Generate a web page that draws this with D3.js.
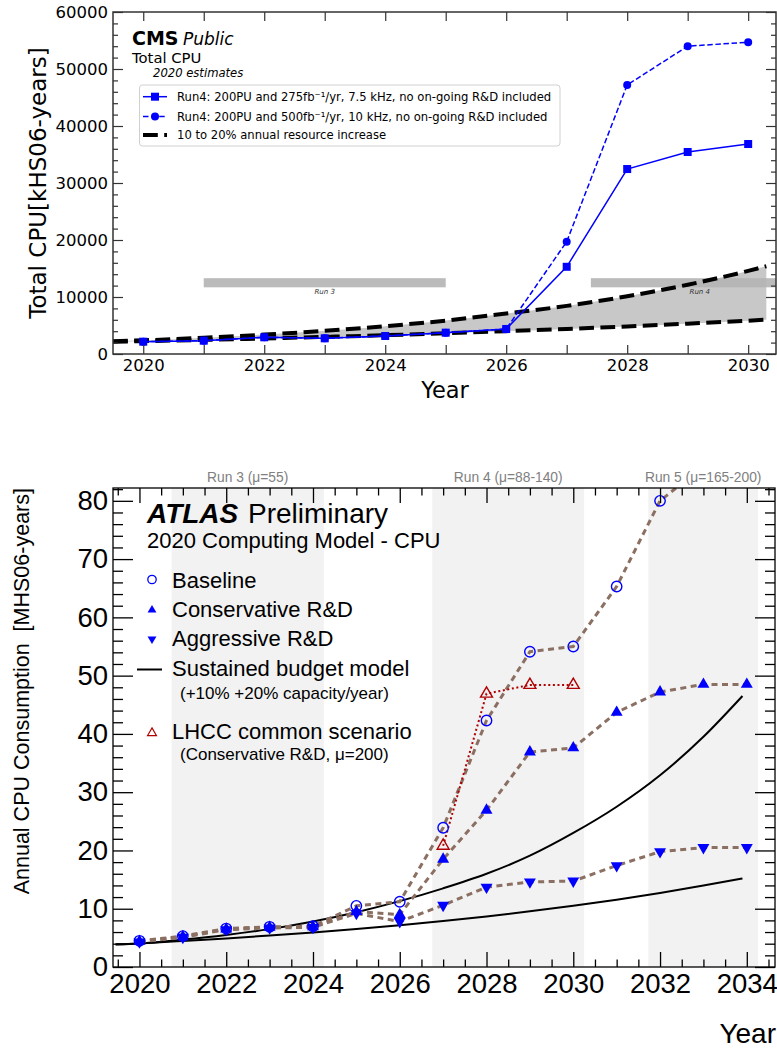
<!DOCTYPE html>
<html><head><meta charset="utf-8">
<script src="https://cdn.jsdelivr.net/npm/d3@7"></script>
<style>body{margin:0;background:#fff} svg{display:block}</style>
</head><body><svg id="c" width="777" height="1051"></svg>
<script>
// ---------- TOP CHART DATA (CMS) ----------
const cmsYears = [2020,2021,2022,2023,2024,2025,2026,2027,2028,2029,2030];
const cms275 = [2160,2340,2930,2750,3160,3740,4390,15300,32450,35440,36840];
const cms500 = [2160,2340,2930,2750,3160,3740,4390,19700,47200,54000,54700];
const cmsBandYears = [2019.5,2020,2021,2022,2023,2024,2025,2026,2027,2028,2029,2030,2030.3];
const cmsLow  = [2150,2250,2480,2730,3000,3300,3630,4000,4400,4840,5320,5850,6020];
const cmsHigh = [2250,2400,2850,3400,4070,4880,5860,7100,8440,10130,12150,14580,15400];
const cmsRunStart = [2021, 2027.4];
const cmsRunEnd = [2025, 2031];
const cmsRunLabels = ["Run 3", "Run 4"];
const cmsYTicks = [0,10000,20000,30000,40000,50000,60000];
const cmsLegend = ["Run4: 200PU and 275fb\u207B\u00B9/yr, 7.5 kHz, no on-going R&D included",
                   "Run4: 200PU and 500fb\u207B\u00B9/yr, 10 kHz, no on-going R&D included",
                   "10 to 20% annual resource increase"];

// ---------- BOTTOM CHART DATA (ATLAS) ----------
const atlasYears = [2020,2021,2022,2023,2024,2025,2026,2027,2028,2029,2030,2031,2032,2033,2034];
const baselineYears = [2020,2021,2022,2023,2024,2025,2026,2027,2028,2029,2030,2031,2032,2033];
const baseline = [4.5,5.3,6.6,6.9,7.0,10.5,11.2,23.9,42.3,54.1,55.0,65.3,80.0,86.0];
const conservative = [4.4,5.2,6.5,6.8,6.9,9.5,9.0,18.5,26.9,36.9,37.6,43.7,47.2,48.5,48.5];
const aggressive = [4.3,5.1,6.4,6.7,6.8,9.2,7.8,10.6,13.7,14.6,14.75,17.4,19.8,20.5,20.5];
const lhccYears = [2027,2028,2029,2030];
const lhcc = [20.8,46.9,48.4,48.4];
const budgetYears = [2019.45,2020,2021,2022,2023,2024,2025,2026,2027,2028,2029,2030,2031,2032,2033,2033.9];
const budgetLow  = [3.85,4.05,4.46,4.9,5.39,5.93,6.52,7.17,7.89,8.68,9.55,10.5,11.55,12.7,13.97,15.2];
const budgetHigh = [3.9,4.05,4.7,5.5,6.5,7.8,9.4,11.3,13.5,16.0,19.1,23.0,27.5,32.9,39.5,46.5];
const runStart = [2020.74, 2026.75, 2031.73];
const runEnd = [2024.25, 2030.25, 2034.26];
const runLabels = ["Run 3 (\u03BC=55)", "Run 4 (\u03BC=88-140)", "Run 5 (\u03BC=165-200)"];
const atlasYTicks = [0,10,20,30,40,50,60,70,80];
const atlasXTicks = [2020,2022,2024,2026,2028,2030,2032,2034];

const svg = d3.select("#c");
svg.append("rect").attr("width",777).attr("height",1051).attr("fill","#fff");
const defs = svg.append("defs");

// ================= TOP CHART =================
(function(){
  const F = "'DejaVu Sans', sans-serif";
  const L=113, R=776, T=12, B=354;
  const x = d3.scaleLinear().domain([2019.5, 2030.46]).range([L, R]);
  const y = d3.scaleLinear().domain([0, 60000]).range([B, T]);
  const g = svg.append("g");
  defs.append("clipPath").attr("id","clipT").append("rect").attr("x",L).attr("y",T).attr("width",R-L).attr("height",B-T);
  const pg = g.append("g").attr("clip-path","url(#clipT)");

  const bandData = cmsBandYears.map((yr,i)=>({yr, lo:cmsLow[i], hi:cmsHigh[i]}));
  pg.append("path").datum(bandData)
    .attr("d", d3.area().x(d=>x(d.yr)).y0(d=>y(d.lo)).y1(d=>y(d.hi)).curve(d3.curveMonotoneX))
    .attr("fill","#c8c8c8");
  cmsRunStart.forEach((s,i)=>{
    pg.append("rect").attr("x",x(s)).attr("y",y(13300)).attr("width",x(cmsRunEnd[i])-x(s))
      .attr("height",y(11700)-y(13300)).attr("fill","#b4b4b4").attr("opacity",0.9);
    pg.append("text").attr("x",x((s+cmsRunEnd[i])/2)).attr("y",y(10500))
      .attr("text-anchor","middle").attr("font-family",F).attr("font-style","italic")
      .attr("font-size",7).attr("fill","#333").text(cmsRunLabels[i]);
  });
  [cmsLow, cmsHigh].forEach(arr=>{
    pg.append("path").datum(cmsBandYears.map((yr,i)=>[yr,arr[i]]))
      .attr("d", d3.line().x(d=>x(d[0])).y(d=>y(d[1])).curve(d3.curveMonotoneX))
      .attr("fill","none").attr("stroke","#000").attr("stroke-width",4)
      .attr("stroke-dasharray","14.8,6.4");
  });
  const line = d3.line().x(d=>x(d[0])).y(d=>y(d[1]));
  pg.append("path").datum(cmsYears.map((yr,i)=>[yr,cms500[i]])).attr("d",line)
    .attr("fill","none").attr("stroke","#0000ff").attr("stroke-width",1.5).attr("stroke-dasharray","5.5,2.6");
  pg.selectAll(".c5").data(cmsYears.map((yr,i)=>[yr,cms500[i]])).enter().append("circle")
    .attr("cx",d=>x(d[0])).attr("cy",d=>y(d[1])).attr("r",4).attr("fill","#0000ff");
  pg.append("path").datum(cmsYears.map((yr,i)=>[yr,cms275[i]])).attr("d",line)
    .attr("fill","none").attr("stroke","#0000ff").attr("stroke-width",1.5);
  pg.selectAll(".s2").data(cmsYears.map((yr,i)=>[yr,cms275[i]])).enter().append("rect")
    .attr("x",d=>x(d[0])-4).attr("y",d=>y(d[1])-4).attr("width",8).attr("height",8).attr("fill","#0000ff");

  const axB = g.append("g").attr("transform",`translate(0,${B})`)
    .call(d3.axisBottom(x).tickValues(cmsYears).tickSizeInner(-9).tickSizeOuter(0).tickPadding(5)
      .tickFormat(d=> d%2===0 ? d : ""));
  const axT = g.append("g").attr("transform",`translate(0,${T})`)
    .call(d3.axisTop(x).tickValues(cmsYears).tickSizeInner(-9).tickSizeOuter(0).tickFormat(""));
  const axL = g.append("g").attr("transform",`translate(${L},0)`)
    .call(d3.axisLeft(y).tickValues(cmsYTicks).tickSizeInner(-10).tickSizeOuter(0).tickPadding(5).tickFormat(d=>d));
  const minorY = d3.range(0,60001,2000).filter(v=>v%10000!==0);
  const axLm = g.append("g").attr("transform",`translate(${L},0)`)
    .call(d3.axisLeft(y).tickValues(minorY).tickSizeInner(-5).tickSizeOuter(0).tickFormat(""));
  const axR = g.append("g").attr("transform",`translate(${R},0)`)
    .call(d3.axisRight(y).tickValues(cmsYTicks).tickSizeInner(-10).tickSizeOuter(0).tickFormat(""));
  const axRm = g.append("g").attr("transform",`translate(${R},0)`)
    .call(d3.axisRight(y).tickValues(minorY).tickSizeInner(-5).tickSizeOuter(0).tickFormat(""));
  [axB,axT,axL,axLm,axR,axRm].forEach(a=>{
    a.select(".domain").remove();
    a.selectAll("line").attr("stroke","#333").attr("stroke-width",1.2);
    a.selectAll("text").attr("font-family",F).attr("font-size",16.5).attr("fill","#000");
  });
  g.append("rect").attr("x",L).attr("y",T).attr("width",R-L).attr("height",B-T)
    .attr("fill","none").attr("stroke","#333").attr("stroke-width",1.5);

  g.append("text").attr("transform","translate(46,183) rotate(-90)").attr("text-anchor","middle")
    .attr("font-family",F).attr("font-size",23).text("Total CPU[kHS06-years]");
  g.append("text").attr("x",445).attr("y",398).attr("text-anchor","middle")
    .attr("font-family",F).attr("font-size",22.5).text("Year");

  g.append("text").attr("x",132).attr("y",45).attr("font-family",F).attr("font-weight","bold")
    .attr("font-size",19).text("CMS");
  g.append("text").attr("x",183).attr("y",45).attr("font-family",F).attr("font-style","italic")
    .attr("font-size",17).text("Public");
  g.append("text").attr("x",132).attr("y",63).attr("font-family",F).attr("font-size",14.8).text("Total CPU");
  g.append("text").attr("x",153).attr("y",77).attr("font-family",F).attr("font-style","italic")
    .attr("font-size",11.6).text("2020 estimates");

  g.append("rect").attr("x",139.5).attr("y",85).attr("width",420.5).attr("height",61).attr("rx",3)
    .attr("fill","#fff").attr("fill-opacity",0.85).attr("stroke","#d0d0d0").attr("stroke-width",1);
  const ly = [96.7, 116.5, 135];
  g.append("line").attr("x1",143).attr("x2",167).attr("y1",ly[0]).attr("y2",ly[0]).attr("stroke","#0000ff").attr("stroke-width",1.5);
  g.append("rect").attr("x",151).attr("y",ly[0]-4).attr("width",8).attr("height",8).attr("fill","#0000ff");
  g.append("line").attr("x1",143).attr("x2",167).attr("y1",ly[1]).attr("y2",ly[1]).attr("stroke","#0000ff").attr("stroke-width",1.5).attr("stroke-dasharray","5.5,2.6");
  g.append("circle").attr("cx",155).attr("cy",ly[1]).attr("r",4).attr("fill","#0000ff");
  g.append("line").attr("x1",143).attr("x2",167).attr("y1",ly[2]).attr("y2",ly[2]).attr("stroke","#000").attr("stroke-width",4).attr("stroke-dasharray","14.8,6.4");
  cmsLegend.forEach((t,i)=>{
    g.append("text").attr("x",177).attr("y",ly[i]+4).attr("font-family",F).attr("font-size",11.6).text(t);
  });
})();

// ================= BOTTOM CHART =================
(function(){
  const F = "'Liberation Sans', Arial, sans-serif";
  const L=113, R=775, T=488, B=967;
  const x = d3.scaleLinear().domain([2019.39, 2034.65]).range([L, R]);
  const y = d3.scaleLinear().domain([0, 82.2]).range([B, T]);
  const g = svg.append("g");
  defs.append("clipPath").attr("id","clipB").append("rect")
    .attr("x",L).attr("y",T).attr("width",R-L).attr("height",B-T);
  const pg = g.append("g").attr("clip-path","url(#clipB)");

  runStart.forEach((s,i)=>{
    pg.append("rect").attr("x",x(s)).attr("y",T).attr("width",x(runEnd[i])-x(s)).attr("height",B-T)
      .attr("fill","#f2f2f2");
    g.append("text").attr("x",(x(s)+x(runEnd[i]))/2).attr("y",482).attr("text-anchor","middle")
      .attr("font-family",F).attr("font-size",13.8).attr("fill","#808080").text(runLabels[i]);
  });

  const curve = d3.line().x(d=>x(d[0])).y(d=>y(d[1])).curve(d3.curveMonotoneX);
  [budgetLow, budgetHigh].forEach(arr=>{
    pg.append("path").datum(budgetYears.map((yr,i)=>[yr,arr[i]])).attr("d",curve)
      .attr("fill","none").attr("stroke","#000").attr("stroke-width",2);
  });

  const line = d3.line().x(d=>x(d[0])).y(d=>y(d[1]));
  const brown = "#8b6f62";
  const sBase = baselineYears.map((yr,i)=>[yr,baseline[i]]);
  const sCons = atlasYears.map((yr,i)=>[yr,conservative[i]]);
  const sAggr = atlasYears.map((yr,i)=>[yr,aggressive[i]]);
  const sLhcc = lhccYears.map((yr,i)=>[yr,lhcc[i]]);
  [sBase,sCons,sAggr].forEach(s=>{
    pg.append("path").datum(s).attr("d",line).attr("fill","none").attr("stroke",brown)
      .attr("stroke-width",3).attr("stroke-dasharray","6,4.5");
  });
  pg.append("path").datum(sLhcc).attr("d",line).attr("fill","none").attr("stroke","#b00000")
    .attr("stroke-width",2).attr("stroke-dasharray","2,2.6");

  const tri = d3.symbol().type(d3.symbolTriangle).size(62);
  pg.selectAll(".up").data(sCons).enter().append("path").attr("d",tri)
    .attr("transform",d=>`translate(${x(d[0])},${y(d[1])})`).attr("fill","#0000ff");
  pg.selectAll(".dn").data(sAggr).enter().append("path").attr("d",tri)
    .attr("transform",d=>`translate(${x(d[0])},${y(d[1])}) rotate(180)`).attr("fill","#0000ff");
  pg.selectAll(".lh").data(sLhcc).enter().append("path").attr("d",tri)
    .attr("transform",d=>`translate(${x(d[0])},${y(d[1])})`).attr("fill","none")
    .attr("stroke","#b00000").attr("stroke-width",1.4);
  pg.selectAll(".ci").data(sBase).enter().append("circle")
    .attr("cx",d=>x(d[0])).attr("cy",d=>y(d[1])).attr("r",5.2).attr("fill","none")
    .attr("stroke","#0000ff").attr("stroke-width",1.4);

  const majX = atlasXTicks;
  const minX = d3.range(2019.5, 2034.6, 0.5).filter(v=>!majX.includes(v));
  const majY = atlasYTicks;
  const minY = d3.range(2, 82.1, 2).filter(v=>v%10!==0);
  const axes = [
    g.append("g").attr("transform",`translate(0,${B})`).call(d3.axisBottom(x).tickValues(majX).tickSizeInner(-15).tickSizeOuter(0).tickPadding(6).tickFormat(d=>d)),
    g.append("g").attr("transform",`translate(0,${B})`).call(d3.axisBottom(x).tickValues(minX).tickSizeInner(-7.5).tickSizeOuter(0).tickFormat("")),
    g.append("g").attr("transform",`translate(0,${T})`).call(d3.axisTop(x).tickValues(majX).tickSizeInner(-15).tickSizeOuter(0).tickFormat("")),
    g.append("g").attr("transform",`translate(0,${T})`).call(d3.axisTop(x).tickValues(minX).tickSizeInner(-7.5).tickSizeOuter(0).tickFormat("")),
    g.append("g").attr("transform",`translate(${L},0)`).call(d3.axisLeft(y).tickValues(majY).tickSizeInner(-20).tickSizeOuter(0).tickPadding(5).tickFormat(d=>d)),
    g.append("g").attr("transform",`translate(${L},0)`).call(d3.axisLeft(y).tickValues(minY).tickSizeInner(-10).tickSizeOuter(0).tickFormat("")),
    g.append("g").attr("transform",`translate(${R},0)`).call(d3.axisRight(y).tickValues(majY).tickSizeInner(-20).tickSizeOuter(0).tickFormat("")),
    g.append("g").attr("transform",`translate(${R},0)`).call(d3.axisRight(y).tickValues(minY).tickSizeInner(-10).tickSizeOuter(0).tickFormat(""))
  ];
  axes.forEach(a=>{
    a.select(".domain").remove();
    a.selectAll("line").attr("stroke","#000").attr("stroke-width",1.3);
    a.selectAll("text").attr("font-family",F).attr("font-size",27.5).attr("fill","#000");
  });
  g.append("rect").attr("x",L).attr("y",T).attr("width",R-L).attr("height",B-T)
    .attr("fill","none").attr("stroke","#000").attr("stroke-width",1.3);

  g.append("text").attr("transform","translate(28.5,488) rotate(-90)").attr("text-anchor","end")
    .attr("font-family",F).attr("font-size",21.5).attr("xml:space","preserve")
    .text("Annual CPU Consumption\u00A0 [MHS06-years]");
  g.append("text").attr("x",776).attr("y",1043).attr("text-anchor","end")
    .attr("font-family",F).attr("font-size",28).text("Year");

  g.append("text").attr("x",147).attr("y",523).attr("font-family",F).attr("font-size",28)
    .attr("font-weight","bold").attr("font-style","italic").text("ATLAS");
  g.append("text").attr("x",248).attr("y",523).attr("font-family",F).attr("font-size",28).text("Preliminary");
  g.append("text").attr("x",147).attr("y",548).attr("font-family",F).attr("font-size",22).text("2020 Computing Model - CPU");

  g.append("circle").attr("cx",152).attr("cy",579.5).attr("r",4.2).attr("fill","none").attr("stroke","#0000ff").attr("stroke-width",1.3);
  const tris = d3.symbol().type(d3.symbolTriangle).size(34);
  g.append("path").attr("d",tris).attr("transform","translate(152,610)").attr("fill","#0000ff");
  g.append("path").attr("d",tris).attr("transform","translate(152,639) rotate(180)").attr("fill","#0000ff");
  g.append("line").attr("x1",137).attr("x2",162).attr("y1",669.5).attr("y2",669.5).attr("stroke","#000").attr("stroke-width",2);
  g.append("path").attr("d",tris).attr("transform","translate(152,733)").attr("fill","none").attr("stroke","#b00000").attr("stroke-width",1.2);

  const leg = [["Baseline",172,588,22],["Conservative R&D",172,617,22],["Aggressive R&D",172,646,22],
               ["Sustained budget model",172,676,22],["(+10% +20% capacity/year)",180,699,17],
               ["LHCC common scenario",172,739,22],["(Conservative R&D, \u03BC=200)",180,760,17]];
  leg.forEach(d=>{
    g.append("text").attr("x",d[1]).attr("y",d[2]).attr("font-family",F).attr("font-size",d[3]).text(d[0]);
  });
})();
</script></body></html>
